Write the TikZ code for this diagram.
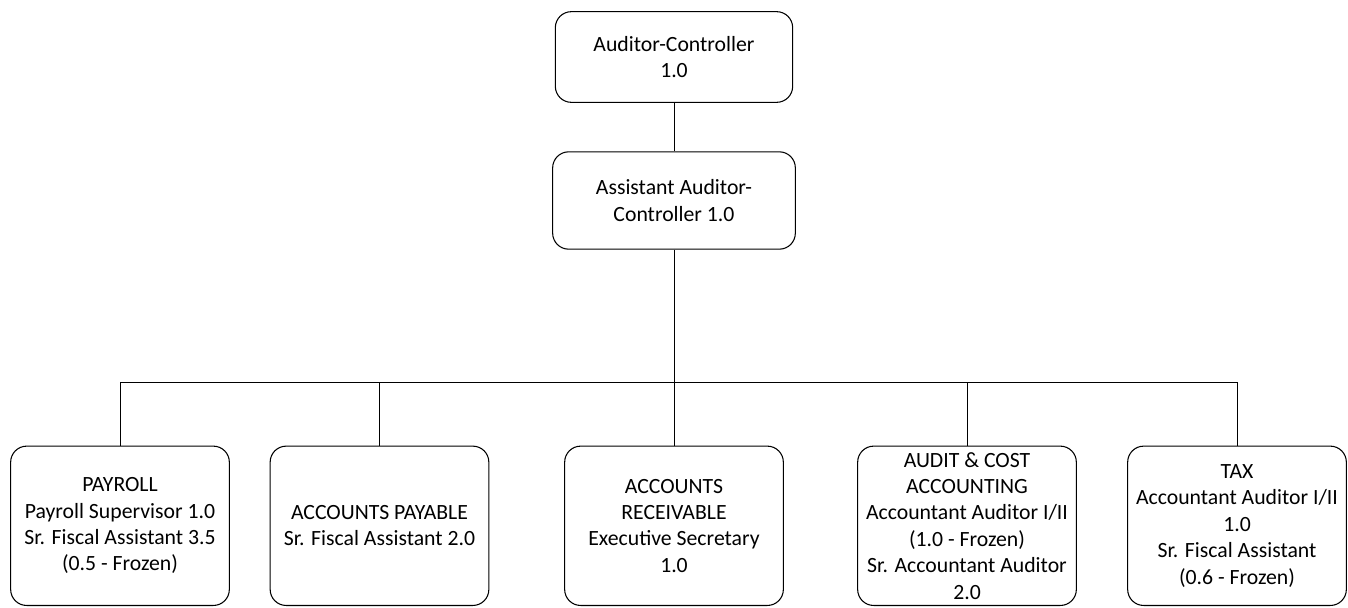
\documentclass[tikz,border=0pt]{standalone}
\usepackage{fontspec}
\setmainfont{Carlito}
\usepackage{tikz}
\usetikzlibrary{positioning}

\tikzset{
  cargo/.style={draw, rounded corners=12pt, line width=0.8pt, align=center,
    inner sep=0pt, font=\fontsize{16.3}{19.8}\selectfont},
  jefe/.style={cargo, minimum height=68pt},
  unidad/.style={cargo, minimum width=164pt, minimum height=119.5pt},
  linea/.style={line width=0.75pt}
}

\begin{document}
\begin{tikzpicture}[x=0.75pt, y=-0.75pt]
   	\useasboundingbox (0,0) rectangle (1348,607);

	%Cajas de direccion
   	\node[jefe, minimum width=178pt, minimum height=68pt] (auditor) at (674,57) {Auditor-Controller\\1.0};
   	\node[jefe, minimum width=182pt, minimum height=73pt] (asistente) at (674,200.5) {Assistant Auditor-\\Controller 1.0};

	%Cajas de las unidades
   	\node[unidad] (nomina) at (120,525.8) {PAYROLL\\Payroll Supervisor 1.0\\Sr. Fiscal Assistant 3.5\\(0.5 - Frozen)};
   	\node[unidad] (pagar) at (379.5,525.8) {ACCOUNTS PAYABLE\\Sr. Fiscal Assistant 2.0};
   	\node[unidad] (cobrar) at (674,525.8) {ACCOUNTS\\RECEIVABLE\\Executive Secretary\\1.0};
   	\node[unidad] (auditoria) at (967,525.8) {AUDIT \& COST\\ACCOUNTING\\Accountant Auditor I/II\\(1.0 - Frozen)\\Sr. Accountant Auditor\\2.0};
   	\node[unidad] (impuesto) at (1237,525.8) {TAX\\Accountant Auditor I/II\\1.0\\Sr. Fiscal Assistant\\(0.6 - Frozen)};

	%Conexiones
   	\coordinate (barra) at (674,382);
   	\draw[linea] (auditor) -- (asistente);
   	\draw[linea] (asistente) -- (barra);
   	\draw[linea] (barra) -| (nomina);
   	\draw[linea] (barra) -| (pagar);
   	\draw[linea] (barra) -- (cobrar);
   	\draw[linea] (barra) -| (auditoria);
   	\draw[linea] (barra) -| (impuesto);
\end{tikzpicture}
\end{document}
